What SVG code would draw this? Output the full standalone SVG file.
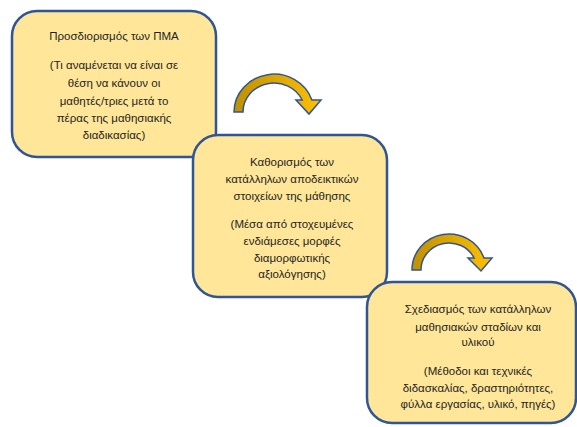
<svg xmlns="http://www.w3.org/2000/svg" width="577" height="427" viewBox="0 0 577 427">
<defs>
<linearGradient id="g" x1="0" y1="0" x2="1" y2="0">
<stop offset="0" stop-color="#BF9000"/>
<stop offset="1" stop-color="#FFC000"/>
</linearGradient>
<style>
.box{fill:#FFE699;stroke:#2F5597;stroke-width:2.5}
.t{font-family:"Liberation Sans",Arial,sans-serif;font-size:11.5px;fill:#1e1e1e;text-anchor:middle}
.arr{fill:url(#g);stroke:#2F5597;stroke-width:1.5;stroke-linejoin:miter}
</style>
</defs>
<rect width="577" height="427" fill="#fff"/>
<g id="node1">
<rect class="box" x="12" y="11" width="204" height="146" rx="25"/>
<text class="t" x="114" y="40">Προσδιορισμός των ΠΜΑ</text>
<text class="t" x="114" y="69">(Τι αναμένεται να είναι σε</text>
<text class="t" x="114" y="87">θέση να κάνουν οι</text>
<text class="t" x="114" y="105">μαθητές/τριες μετά το</text>
<text class="t" x="114" y="122">πέρας της μαθησιακής</text>
<text class="t" x="114" y="139">διαδικασίας)</text>
</g>
<g id="node2">
<rect class="box" x="193" y="135" width="194" height="162" rx="25"/>
<text class="t" x="292" y="166">Καθορισμός των</text>
<text class="t" x="292" y="183">κατάλληλων αποδεικτικών</text>
<text class="t" x="292" y="200">στοιχείων της μάθησης</text>
<text class="t" x="292" y="228">(Μέσα από στοχευμένες</text>
<text class="t" x="292" y="245">ενδιάμεσες μορφές</text>
<text class="t" x="292" y="262">διαμορφωτικής</text>
<text class="t" x="292" y="278">αξιολόγησης)</text>
</g>
<g id="node3">
<rect class="box" x="367" y="282" width="209" height="141" rx="25"/>
<text class="t" x="478" y="313">Σχεδιασμός των κατάλληλων</text>
<text class="t" x="478" y="331">μαθησιακών σταδίων και</text>
<text class="t" x="478" y="346">υλικού</text>
<text class="t" x="478" y="375">(Μέθοδοι και τεχνικές</text>
<text class="t" x="478" y="392">διδασκαλίας, δραστηριότητες,</text>
<text class="t" x="478" y="408">φύλλα εργασίας, υλικό, πηγές)</text>
</g>
<g id="connectors">
<path class="arr" d="M234,112 A40,38 0 0 1 311.9,100 L321,100 L309,114 L296,100 L302.2,100 A31,29 0 0 0 243,112 Z"/>
<path class="arr" d="M412,270 A37,36 0 0 1 483.9,258 L492,258 L481,271 L468,258 L474.1,258 A28,27 0 0 0 421,270 Z"/>
</g>
</svg>
